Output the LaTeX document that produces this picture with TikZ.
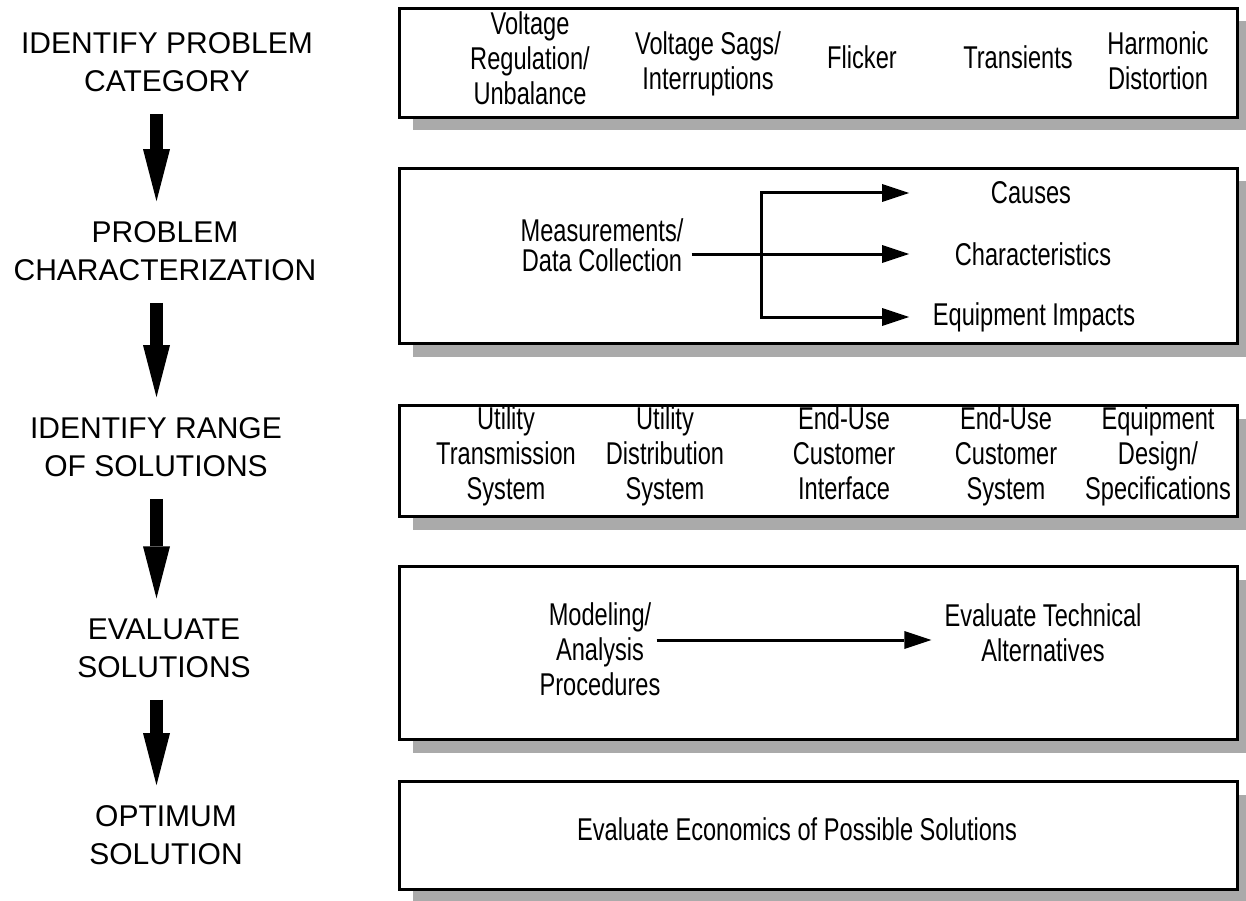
\documentclass[tikz,border=0pt]{standalone}
\usepackage{fontspec}
\setmainfont{Liberation Sans}
\newfontfamily\narrowfont[FakeStretch=0.75]{Liberation Sans}
\usetikzlibrary{arrows.meta, shadows}

\definecolor{shadowgray}{RGB}{170,170,170}

\tikzset{
    steplabel/.style={align=center, inner sep=0pt, font=\fontsize{30}{38}\selectfont},
    stagebox/.style={rectangle, draw=black, line width=3pt, fill=white,
        minimum width=838pt, inner sep=0pt,
        drop shadow={shadow xshift=13pt, shadow yshift=-13pt, fill=shadowgray, draw=none, opacity=1}},
    item/.style={align=center, inner sep=0pt, font=\narrowfont\fontsize{31.5}{35}\selectfont},
    bigarrow/.style={line width=13pt, -{Triangle[length=52pt, width=27pt, line width=0pt]},
        shorten <=22pt, shorten >=20pt},
    flow/.style={line width=3pt, -{Triangle[length=27pt, width=18pt, line width=0pt]}},
}

\begin{document}
\begin{tikzpicture}[x=1pt, y=-1pt]
\useasboundingbox (0,0) rectangle (1246,901);

% steps on the left
\begin{scope}[every node/.style={steplabel}]
    \node (cat) at (167, 62) {IDENTIFY PROBLEM\\CATEGORY};
    \node (char) at (165, 251) {PROBLEM\\CHARACTERIZATION};
    \node (range) at (156, 447) {IDENTIFY RANGE\\OF SOLUTIONS};
    \node (evalsol) at (164, 648) {EVALUATE\\SOLUTIONS};
    \node (optsol) at (166, 835) {OPTIMUM\\SOLUTION};
\end{scope}

\coordinate (axis) at (156.5, 0);
\begin{scope}[every edge/.style={draw, bigarrow}]
    \path (cat.south -| axis) edge (char.north -| axis);
    \path (char.south -| axis) edge (range.north -| axis);
    \path (range.south -| axis) edge (evalsol.north -| axis);
    \path (evalsol.south -| axis) edge (optsol.north -| axis);
\end{scope}

% boxes on the right
\node[stagebox, minimum height=109pt] (catbox) at (818.5, 63) {};
\node[stagebox, minimum height=175pt] (charbox) at (818.5, 256) {};
\node[stagebox, minimum height=111pt] (rangebox) at (818.5, 461) {};
\node[stagebox, minimum height=173pt] (evalbox) at (818.5, 653) {};
\node[stagebox, minimum height=108pt] (optbox) at (818.5, 835.5) {};

\begin{scope}[every node/.style={item}]
    \node (volt) at (530, 58) {Voltage\\Regulation/\\Unbalance};
    \node (sags) at (708, 64) {Voltage Sags/\\Interruptions};
    \node (flicker) at (862, 57) {Flicker};
    \node (trans) at (1018, 57) {Transients};
    \node (harm) at (1158, 61) {Harmonic\\Distortion};

    \node[font=\narrowfont\fontsize{31.5}{30}\selectfont] (meas) at (602, 245) {Measurements/\\Data Collection};
    \node (causes) at (1031, 193) {Causes};
    \node (chars) at (1033, 254) {Characteristics};
    \node (impacts) at (1034, 317) {Equipment Impacts};

    \node (tsys) at (506, 456) {Utility\\Transmission\\System};
    \node (dsys) at (665, 456) {Utility\\Distribution\\System};
    \node (iface) at (844, 453) {End-Use\\Customer\\Interface};
    \node (csys) at (1006, 456) {End-Use\\Customer\\System};
    \node (equip) at (1158, 456) {Equipment\\Design/\\Specifications};

    \node (model) at (600, 649) {Modeling/\\Analysis\\Procedures};
    \node (evaltech) at (1043, 633) {Evaluate Technical\\Alternatives};

    \node (econ) at (797, 829) {Evaluate Economics of Possible Solutions};
\end{scope}

% arrows inside the boxes
\coordinate (fork) at (761, 254);
\coordinate (tips) at (909, 0);
\draw[flow] ([xshift=8pt, yshift=-9pt]meas.east) -- (chars.west -| tips);
\draw[flow] (fork) |- (causes.west -| tips);
\draw[flow] (fork) |- (impacts.west -| tips);
\draw[flow, shorten >=13pt] ([xshift=-4pt, yshift=9pt]model.east) -- ([yshift=9pt]model.east -| evaltech.west);

\end{tikzpicture}
\end{document}
